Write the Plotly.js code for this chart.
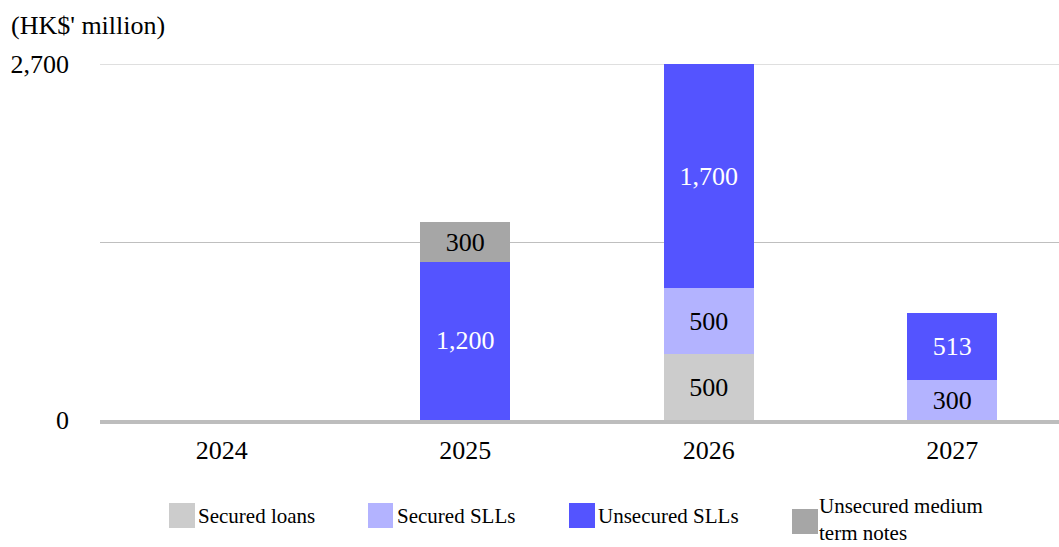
<!DOCTYPE html>
<html>
<head>
<meta charset="utf-8">
<script src="https://cdn.plot.ly/plotly-3.0.1.min.js"></script>
<style>html,body{margin:0;padding:0;background:#fff}#chart{width:1059px;height:547px}</style>
</head>
<body>
<div id="chart"></div>
<script>
var years = ['2024', '2025', '2026', '2027'];
var securedLoans = [0, 0, 500, 0];
var securedSLLs = [0, 0, 500, 300];
var unsecuredSLLs = [0, 1200, 1700, 513];
var unsecuredMTN = [0, 300, 0, 0];
var seriesNames = ['Secured loans', 'Secured SLLs', 'Unsecured SLLs', 'Unsecured medium term notes'];
var yTickVals = [0, 1350, 2700];
var yTickText = ['0', '', '2,700'];
var unitLabel = "(HK$' million)";

var FONT = 'Times New Roman';
var colors = ['#cccccc', '#b3b3ff', '#5454ff', '#a6a6a6'];
var textColors = ['#000000', '#000000', '#ffffff', '#000000'];
var seriesValues = [securedLoans, securedSLLs, unsecuredSLLs, unsecuredMTN];

function fmt(v) { return v > 0 ? v.toLocaleString('en-US') : ''; }

var traces = seriesValues.map(function (vals, i) {
  return {
    type: 'bar',
    name: seriesNames[i],
    x: years,
    y: vals.map(function (v) { return v > 0 ? v : null; }),
    text: vals.map(fmt),
    textposition: 'inside',
    insidetextanchor: 'middle',
    constraintext: 'none',
    textangle: 0,
    textfont: { family: FONT, size: 26, color: textColors[i] },
    marker: { color: colors[i], line: { width: 0 } },
    width: 0.37,
    hoverinfo: 'x+y+name',
    showlegend: false
  };
});

// Custom legend (positions in pixels converted to paper coords)
var L = 100, W = 959, B = 420, H = 356;
function px(x) { return (x - L) / W; }
function py(y) { return (B - y) / H; }
var swatches = [
  { x0: 169, x1: 195, y0: 503, y1: 528 },
  { x0: 368, x1: 393, y0: 503, y1: 528 },
  { x0: 569, x1: 595, y0: 503, y1: 528 },
  { x0: 792, x1: 818, y0: 509, y1: 534 }
];
var shapes = swatches.map(function (s, i) {
  return { type: 'rect', xref: 'paper', yref: 'paper', x0: px(s.x0), x1: px(s.x1), y0: py(s.y1), y1: py(s.y0),
    fillcolor: colors[i], line: { width: 0 } };
});
// top gridline at the range maximum
shapes.push({ type: 'line', xref: 'paper', yref: 'y', x0: 0, x1: 1, y0: yTickVals[2], y1: yTickVals[2],
  line: { color: '#bfbfbf', width: 1 }, layer: 'below' });

var lastWords = seriesNames[3].split(' ');
var legendText = [
  { x: 197, y: 516, t: seriesNames[0], anchor: 'middle' },
  { x: 396, y: 516, t: seriesNames[1], anchor: 'middle' },
  { x: 597, y: 516, t: seriesNames[2], anchor: 'middle' },
  { x: 818, y: 546, t: lastWords.slice(0, 2).join(' ') + '<br>' + lastWords.slice(2).join(' '), anchor: 'bottom' }
];
var annotations = legendText.map(function (a) {
  return { xref: 'paper', yref: 'paper', x: px(a.x), y: py(a.y), xanchor: 'left', yanchor: a.anchor,
    align: 'left', borderpad: 0,
    text: a.t, showarrow: false, font: { family: FONT, size: 21, color: '#000' } };
});

var layout = {
  width: 1059, height: 547,
  margin: { l: 100, r: 0, t: 64, b: 127 },
  paper_bgcolor: '#ffffff', plot_bgcolor: '#ffffff',
  barmode: 'stack',
  font: { family: FONT, size: 26, color: '#000' },
  title: { text: unitLabel, xref: 'container', yref: 'container', x: 11 / 1059, xanchor: 'left',
    y: 1 - 25 / 547, yanchor: 'middle', font: { family: FONT, size: 26, color: '#000' } },
  xaxis: {
    type: 'category', range: [-0.5, -0.5 + 959 / 243.5], fixedrange: true,
    showgrid: false, zeroline: false, showline: true, linecolor: '#bdbdbd', linewidth: 4,
    layer: 'above traces', ticks: '', ticklabelstandoff: 4,
    tickfont: { family: FONT, size: 26, color: '#000' }
  },
  yaxis: {
    range: [0, 2700], tickvals: yTickVals, ticktext: yTickText, fixedrange: true,
    showgrid: true, gridcolor: '#bfbfbf', gridwidth: 1, zeroline: false, showline: false,
    ticks: '', ticklabelstandoff: 30,
    tickfont: { family: FONT, size: 26, color: '#000' }
  },
  shapes: shapes,
  annotations: annotations,
  showlegend: false,
  bargap: 0.63
};

Plotly.newPlot('chart', traces, layout, { displayModeBar: false, staticPlot: true });
</script>
</body>
</html>
